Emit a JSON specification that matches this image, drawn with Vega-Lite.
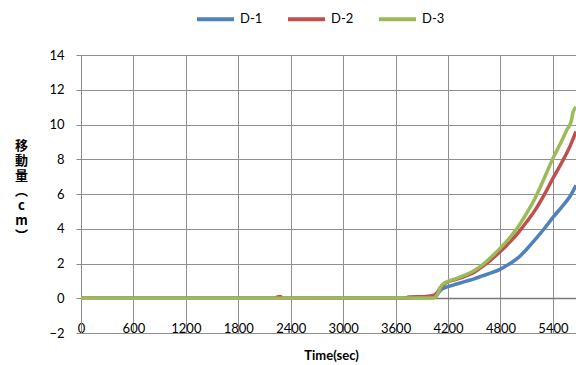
{
  "$schema": "https://vega.github.io/schema/vega-lite/v6.json",
  "width": 495,
  "height": 278,
  "autosize": {"type": "none"},
  "padding": {"left": 81, "top": 55, "right": 0, "bottom": 32},
  "background": "white",
  "config": {
    "view": {"stroke": null},
    "font": "Lato",
    "axis": {"labelFont": "Lato", "labelFontSize": 13, "labelColor": "#000", "gridColor": "#8f8f8f", "gridWidth": 1, "domainColor": "#888888", "tickColor": "#888888", "labelOverlap": false}
  },
  "data": {
    "values": [
      {"s": "D-1", "t": 0, "v": 0}, {"s": "D-1", "t": 3750, "v": 0}, {"s": "D-1", "t": 3800, "v": 0.03}, {"s": "D-1", "t": 4000, "v": 0.05}, {"s": "D-1", "t": 4060, "v": 0.1}, {"s": "D-1", "t": 4090, "v": 0.3}, {"s": "D-1", "t": 4120, "v": 0.5}, {"s": "D-1", "t": 4200, "v": 0.67}, {"s": "D-1", "t": 4300, "v": 0.82}, {"s": "D-1", "t": 4400, "v": 0.97}, {"s": "D-1", "t": 4500, "v": 1.12}, {"s": "D-1", "t": 4600, "v": 1.3}, {"s": "D-1", "t": 4700, "v": 1.47}, {"s": "D-1", "t": 4800, "v": 1.68}, {"s": "D-1", "t": 4900, "v": 1.97}, {"s": "D-1", "t": 5000, "v": 2.32}, {"s": "D-1", "t": 5100, "v": 2.82}, {"s": "D-1", "t": 5200, "v": 3.4}, {"s": "D-1", "t": 5300, "v": 4.0}, {"s": "D-1", "t": 5400, "v": 4.65}, {"s": "D-1", "t": 5500, "v": 5.25}, {"s": "D-1", "t": 5600, "v": 5.9}, {"s": "D-1", "t": 5664, "v": 6.5},
      {"s": "D-2", "t": 0, "v": 0}, {"s": "D-2", "t": 2220, "v": 0}, {"s": "D-2", "t": 2250, "v": 0.08}, {"s": "D-2", "t": 2280, "v": 0.1}, {"s": "D-2", "t": 2310, "v": 0}, {"s": "D-2", "t": 3700, "v": 0}, {"s": "D-2", "t": 3750, "v": 0.07}, {"s": "D-2", "t": 3950, "v": 0.1}, {"s": "D-2", "t": 4040, "v": 0.18}, {"s": "D-2", "t": 4080, "v": 0.35}, {"s": "D-2", "t": 4110, "v": 0.6}, {"s": "D-2", "t": 4150, "v": 0.78}, {"s": "D-2", "t": 4200, "v": 0.95}, {"s": "D-2", "t": 4300, "v": 1.1}, {"s": "D-2", "t": 4400, "v": 1.28}, {"s": "D-2", "t": 4500, "v": 1.5}, {"s": "D-2", "t": 4600, "v": 1.85}, {"s": "D-2", "t": 4700, "v": 2.25}, {"s": "D-2", "t": 4800, "v": 2.7}, {"s": "D-2", "t": 4900, "v": 3.2}, {"s": "D-2", "t": 5000, "v": 3.75}, {"s": "D-2", "t": 5100, "v": 4.4}, {"s": "D-2", "t": 5200, "v": 5.1}, {"s": "D-2", "t": 5300, "v": 5.95}, {"s": "D-2", "t": 5400, "v": 6.9}, {"s": "D-2", "t": 5500, "v": 7.8}, {"s": "D-2", "t": 5600, "v": 8.8}, {"s": "D-2", "t": 5664, "v": 9.6},
      {"s": "D-3", "t": 0, "v": 0}, {"s": "D-3", "t": 4040, "v": 0.02}, {"s": "D-3", "t": 4060, "v": 0.1}, {"s": "D-3", "t": 4090, "v": 0.35}, {"s": "D-3", "t": 4110, "v": 0.6}, {"s": "D-3", "t": 4140, "v": 0.8}, {"s": "D-3", "t": 4200, "v": 0.97}, {"s": "D-3", "t": 4300, "v": 1.15}, {"s": "D-3", "t": 4400, "v": 1.35}, {"s": "D-3", "t": 4500, "v": 1.6}, {"s": "D-3", "t": 4600, "v": 1.95}, {"s": "D-3", "t": 4700, "v": 2.4}, {"s": "D-3", "t": 4800, "v": 2.9}, {"s": "D-3", "t": 4900, "v": 3.45}, {"s": "D-3", "t": 5000, "v": 4.1}, {"s": "D-3", "t": 5100, "v": 4.9}, {"s": "D-3", "t": 5200, "v": 5.8}, {"s": "D-3", "t": 5300, "v": 6.9}, {"s": "D-3", "t": 5400, "v": 8.05}, {"s": "D-3", "t": 5500, "v": 9.05}, {"s": "D-3", "t": 5560, "v": 9.7}, {"s": "D-3", "t": 5610, "v": 10.2}, {"s": "D-3", "t": 5630, "v": 10.7}, {"s": "D-3", "t": 5664, "v": 11.0}
    ]
  },
  "mark": {"type": "line", "strokeWidth": 3.5, "clip": true, "interpolate": "monotone"},
  "encoding": {
    "x": {
      "field": "t", "type": "quantitative",
      "scale": {"domain": [0, 5664], "nice": false},
      "axis": {
        "values": [0, 600, 1200, 1800, 2400, 3000, 3600, 4200, 4800, 5400],
        "format": "d",
        "grid": true, "domain": false, "ticks": false, "tickSize": 0,
        "labelBaseline": "alphabetic", "labelPadding": -1, "labelFlush": false, "labelOverlap": false,
        "title": "Time(sec)", "titleFont": "Lato", "titleFontSize": 13, "titleFontWeight": "bold",
        "titleBaseline": "top", "titleX": 250, "titleY": 16, "titleAnchor": null, "titleAlign": "center"
      }
    },
    "y": {
      "field": "v", "type": "quantitative",
      "scale": {"domain": [-2, 14], "nice": false},
      "axis": {
        "values": [-2, 0, 2, 4, 6, 8, 10, 12, 14],
        "format": "d",
        "grid": true, "domain": true, "ticks": true, "tickSize": 5,
        "gridColor": {"condition": {"test": "datum.value === 0", "value": "#7a7a7a"}, "value": "#8f8f8f"},
        "gridWidth": {"condition": {"test": "datum.value === 0", "value": 1.6}, "value": 1},
        "labelPadding": 12, "labelFlush": false, "labelOverlap": false,
        "title": ["移", "動", "量", "︵", "c", "m", "︶"],
        "titleFont": "Noto Sans CJK JP", "titleFontSize": 13, "titleFontWeight": "bold",
        "titleAngle": 0, "titleLineHeight": 15, "titleBaseline": "top", "titleAlign": "center",
        "titleX": -60, "titleY": 84
      }
    },
    "color": {
      "field": "s", "type": "nominal",
      "scale": {"domain": ["D-1", "D-2", "D-3"], "range": ["#4F81BD", "#C0504D", "#9BBB59"]},
      "legend": {
        "title": null, "orient": "none", "direction": "horizontal",
        "legendX": 114, "legendY": -56.5, "padding": 0,
        "symbolType": "stroke", "symbolSize": 1369, "symbolStrokeWidth": 4,
        "labelFont": "Lato", "labelFontSize": 13, "labelColor": "#000",
        "labelOffset": 4, "columnPadding": 17
      }
    }
  }
}
